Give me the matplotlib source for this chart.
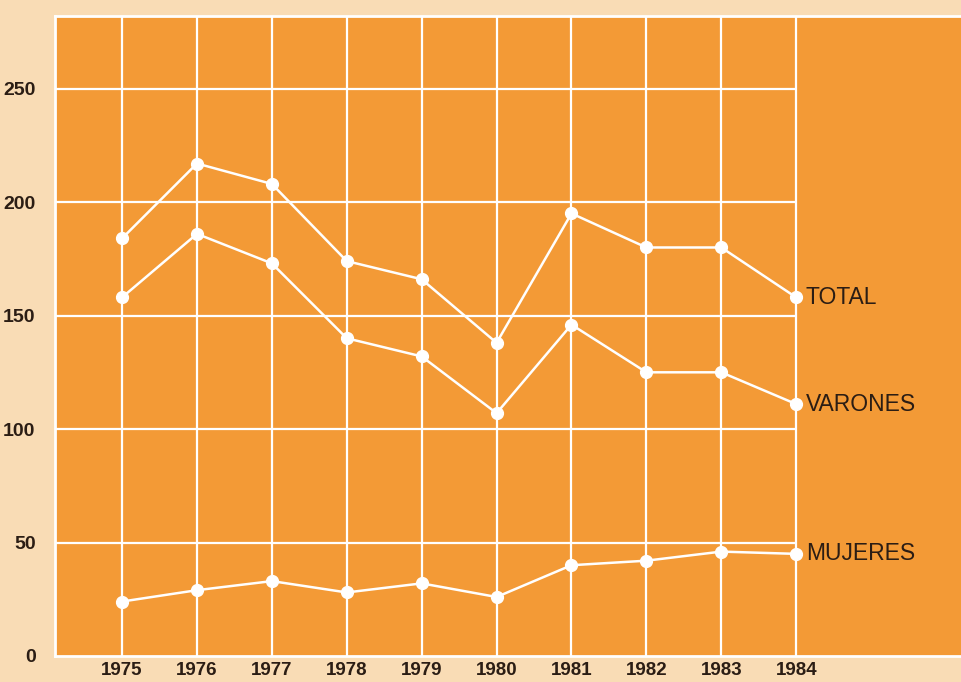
import numpy as np
import matplotlib
matplotlib.use("Agg")
import matplotlib.pyplot as plt

years = [1975, 1976, 1977, 1978, 1979, 1980, 1981, 1982, 1983, 1984]
total = [184, 217, 208, 174, 166, 138, 195, 180, 180, 158]
varones = [158, 186, 173, 140, 132, 107, 146, 125, 125, 111]
mujeres = [24, 29, 33, 28, 32, 26, 40, 42, 46, 45]
yticks = [0, 50, 100, 150, 200, 250]

orange = "#f39a36"
paper = "#f9dcb5"
ink = "#2b1d14"

plt.rcParams['font.family'] = ['Liberation Sans', 'DejaVu Sans']

fig = plt.figure(figsize=(9.61, 6.82), dpi=100, facecolor=paper)
ax = fig.add_axes([55/961, 1-656/682, 1-55/961, (656-16)/682])
ax.set_facecolor(orange)

x0, x1 = 1974.105, 1986.2
ax.set_xlim(x0, x1)
ax.set_ylim(0, 282)

# grid: horizontal lines stop at the last year
ax.hlines(yticks[1:], x0, years[-1], color="white", lw=1.6, zorder=1)
ax.vlines(years, 0, 282, color="white", lw=1.6, zorder=1)

for s in ["top", "left", "bottom"]:
    ax.spines[s].set_color("white")
    ax.spines[s].set_linewidth(2)
ax.spines["right"].set_visible(False)

for serie in [total, varones, mujeres]:
    ax.plot(years, serie, '-o', color="white", lw=1.8, ms=8.5,
            mec="white", mfc="white", zorder=3, clip_on=False)

ax.text(years[-1] + 0.13, total[-1], "TOTAL", fontsize=16.5, color=ink, va="center")
ax.text(years[-1] + 0.13, varones[-1], "VARONES", fontsize=16.5, color=ink, va="center")
ax.text(years[-1] + 0.13, mujeres[-1], "MUJERES", fontsize=16.5, color=ink, va="center")

ax.set_yticks(yticks)
ax.set_yticklabels([str(v) for v in yticks], fontsize=14, fontweight="bold", color=ink)
ax.set_xticks(years)
ax.set_xticklabels([str(y) for y in years], fontsize=13.5, fontweight="bold", color=ink)
ax.tick_params(axis="y", length=0, pad=14)
ax.tick_params(axis="x", length=0, pad=4)

fig.savefig("out.png", dpi=100, facecolor=paper)
